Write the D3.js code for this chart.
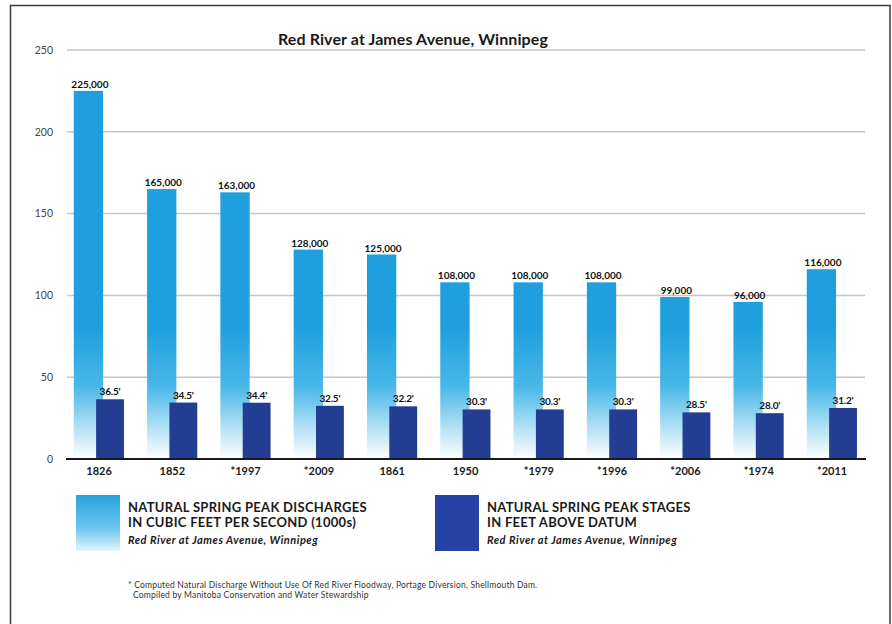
<!DOCTYPE html>
<html>
<head>
<meta charset="utf-8">
<script src="https://cdn.jsdelivr.net/npm/d3@7"></script>
<style>
  html, body { margin: 0; padding: 0; background: #fff; }
  svg { display: block; font-family: Lato, "Open Sans", sans-serif; }
</style>
</head>
<body>
<svg id="chart" width="892" height="624"></svg>
<script>
// ---- Data ----
const years = ["1826", "1852", "*1997", "*2009", "1861", "1950", "*1979", "*1996", "*2006", "*1974", "*2011"];
const discharge = [225, 165, 163, 128, 125, 108, 108, 108, 99, 96, 116];      // thousands of cfs
const stage = [36.5, 34.5, 34.4, 32.5, 32.2, 30.3, 30.3, 30.3, 28.5, 28.0, 31.2]; // feet above datum
const yTicks = [0, 50, 100, 150, 200, 250];

const title = "Red River at James Avenue, Winnipeg";
const legendItems = [
  { lines: ["NATURAL SPRING PEAK DISCHARGES", "IN CUBIC FEET PER SECOND (1000s)"], sub: "Red River at James Avenue, Winnipeg", kind: "light" },
  { lines: ["NATURAL SPRING PEAK STAGES", "IN FEET ABOVE DATUM"], sub: "Red River at James Avenue, Winnipeg", kind: "dark" }
];
const footnotes = [
  "* Computed Natural Discharge Without Use Of Red River Floodway, Portage Diversion, Shellmouth Dam.",
  "Compiled by Manitoba Conservation and Water Stewardship"
];

// ---- Setup ----
const svg = d3.select("#chart");
const LIGHT = "#1f9fde";
const DARK = "#233d92";

const x = d3.scaleBand().domain(years).range([62.4, 868.7]).padding(0);
const y = d3.scaleLinear().domain([0, 250]).range([459, 50]);

const defs = svg.append("defs");
const grad = defs.append("linearGradient")
  .attr("id", "lightGrad")
  .attr("gradientUnits", "userSpaceOnUse")
  .attr("x1", 0).attr("x2", 0)
  .attr("y1", y(80)).attr("y2", y(0));
grad.append("stop").attr("offset", 0).attr("stop-color", LIGHT);
grad.append("stop").attr("offset", 0.45).attr("stop-color", "#4ab8e8");
grad.append("stop").attr("offset", 0.8).attr("stop-color", "#bfe6f7");
grad.append("stop").attr("offset", 1).attr("stop-color", "#ffffff");

const lgGrad = defs.append("linearGradient")
  .attr("id", "legendGrad")
  .attr("x1", 0).attr("x2", 0).attr("y1", 0).attr("y2", 1);
lgGrad.append("stop").attr("offset", 0).attr("stop-color", "#27a3df");
lgGrad.append("stop").attr("offset", 0.6).attr("stop-color", "#6cc6ee");
lgGrad.append("stop").attr("offset", 1).attr("stop-color", "#e6f5fc");

// Frame
svg.append("rect")
  .attr("x", 10.5).attr("y", 5.5).attr("width", 879.5).attr("height", 640)
  .attr("fill", "none").attr("stroke", "#3a3a3a").attr("stroke-width", 1.5);

// Title
svg.append("text")
  .attr("x", 413).attr("y", 45)
  .attr("text-anchor", "middle")
  .attr("font-size", 16).attr("font-weight", 700).attr("letter-spacing", 0.1).attr("fill", "#1a1a1a")
  .text(title);

// Gridlines
const gx0 = 67, gx1 = 865;
svg.append("g").selectAll("line")
  .data(yTicks.filter(d => d > 0))
  .join("line")
  .attr("x1", gx0).attr("x2", gx1)
  .attr("y1", d => y(d)).attr("y2", d => y(d))
  .attr("stroke", "#c6c6c6").attr("stroke-width", 1.5);

// Y axis labels
const yAxis = d3.axisLeft(y).tickValues(yTicks).tickSize(0).tickPadding(0);
const yg = svg.append("g").attr("transform", "translate(53,0)").call(yAxis);
yg.select(".domain").remove();
yg.selectAll("text")
  .attr("font-family", "Lato, 'Open Sans', sans-serif")
  .attr("font-size", 10.5).attr("fill", "#444");

const bw = x.bandwidth();
const cx = d => x(d) + bw / 2;

// Light bars (discharge)
svg.append("g").selectAll("rect")
  .data(years)
  .join("rect")
  .attr("x", d => cx(d) - 0.345 * bw)
  .attr("width", 0.4 * bw)
  .attr("y", (d, i) => y(discharge[i]))
  .attr("height", (d, i) => y(0) - y(discharge[i]))
  .attr("fill", "url(#lightGrad)");

// Dark bars (stage)
svg.append("g").selectAll("rect")
  .data(years)
  .join("rect")
  .attr("x", d => cx(d) - 0.04 * bw)
  .attr("width", 0.38 * bw)
  .attr("y", (d, i) => y(stage[i]))
  .attr("height", (d, i) => y(0) - y(stage[i]))
  .attr("fill", DARK);

// Value labels
const fmtK = d3.format(",");
svg.append("g").selectAll("text")
  .data(years)
  .join("text")
  .attr("x", d => cx(d) - 0.145 * bw + 1.5)
  .attr("y", (d, i) => y(discharge[i]) - 3)
  .attr("text-anchor", "middle")
  .attr("font-size", 10).attr("font-weight", 700).attr("letter-spacing", 0)
  .attr("fill", "#111")
  .text((d, i) => fmtK(discharge[i] * 1000));

const fmtS = d3.format(".1f");
svg.append("g").selectAll("text")
  .data(years)
  .join("text")
  .attr("x", d => cx(d) + 0.15 * bw)
  .attr("y", (d, i) => y(stage[i]) - 4)
  .attr("text-anchor", "middle")
  .attr("font-size", 10).attr("font-weight", 700).attr("letter-spacing", -0.2)
  .attr("fill", "#111")
  .text((d, i) => fmtS(stage[i]) + "'");

// Baseline
svg.append("line")
  .attr("x1", 66).attr("x2", 866)
  .attr("y1", y(0)).attr("y2", y(0))
  .attr("stroke", "#1a1a1a").attr("stroke-width", 2);

// X axis labels
const xAxis = d3.axisBottom(x).tickSize(0).tickPadding(0);
const xg = svg.append("g").attr("transform", `translate(0,${y(0) + 8})`).call(xAxis);
xg.select(".domain").remove();
xg.selectAll("text")
  .attr("font-family", "Lato, 'Open Sans', sans-serif")
  .attr("font-size", 11).attr("font-weight", 700).attr("fill", "#1a1a1a");

// Legend
const legendX = [76, 435];
legendItems.forEach((item, k) => {
  const g = svg.append("g").attr("transform", `translate(${legendX[k]},495)`);
  g.append("rect")
    .attr("x", 0).attr("y", 0).attr("width", 44).attr("height", 56)
    .attr("fill", item.kind === "light" ? "url(#legendGrad)" : "#2742a6");
  item.lines.forEach((ln, j) => {
    g.append("text")
      .attr("x", 52).attr("y", 17 + j * 15)
      .attr("font-size", 13).attr("font-weight", 700).attr("letter-spacing", 0.3).attr("fill", "#1a1a1a")
      .text(ln);
  });
  g.append("text")
    .attr("x", 52).attr("y", 49)
    .attr("font-size", 11).attr("font-weight", 700).attr("font-style", "italic")
    .attr("letter-spacing", 0.5)
    .attr("fill", "#1a1a1a")
    .text(item.sub);
});

// Footnotes
footnotes.forEach((t, j) => {
  svg.append("text")
    .attr("x", j === 0 ? 128 : 133).attr("y", 588 + j * 10)
    .attr("font-size", 8.5).attr("letter-spacing", 0.2).attr("fill", "#333")
    .text(t);
});
</script>
</body>
</html>
